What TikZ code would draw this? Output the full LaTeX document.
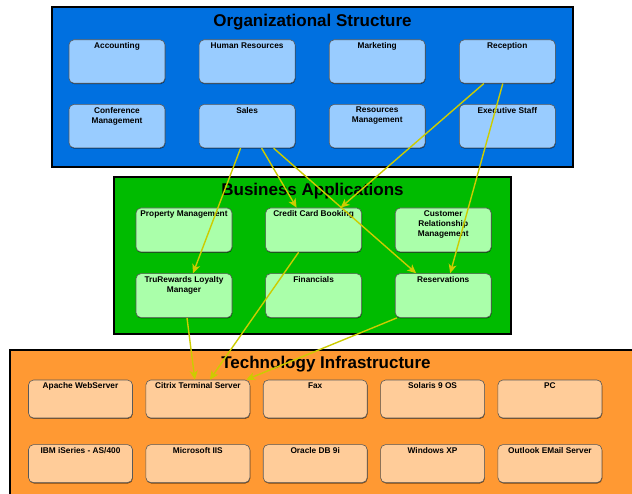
\documentclass[tikz,border=0pt]{standalone}
\usepackage{fontspec}
\setmainfont{Liberation Sans}
\usetikzlibrary{arrows.meta, positioning, shadows}

\definecolor{orgblue}{RGB}{0,112,224}
\definecolor{orgfill}{RGB}{153,204,255}
\definecolor{appgreen}{RGB}{0,187,0}
\definecolor{appfill}{RGB}{170,255,170}
\definecolor{techorange}{RGB}{255,153,51}
\definecolor{techfill}{RGB}{255,204,153}
\definecolor{linkyellow}{RGB}{204,204,0}

\begin{document}
\begin{tikzpicture}[x=1pt, y=-1pt,
  groupframe/.style={draw=black, line width=2.5pt},
  grouptitle/.style={anchor=base, font=\fontsize{17}{20}\selectfont\bfseries},
  box/.style={draw=black!65, line width=0.6pt, rounded corners=5pt, inner sep=0pt,
              drop shadow={shadow xshift=0.4pt, shadow yshift=-0.9pt, fill=black, opacity=0.55}},
  orgbox/.style={box, fill=orgfill, minimum width=96pt, minimum height=43.5pt},
  appbox/.style={box, fill=appfill, minimum width=96pt, minimum height=44pt},
  techbox/.style={box, fill=techfill, minimum width=104pt, minimum height=38pt},
  lbl/.style={anchor=north, align=center, inner sep=3pt,
              font=\fontsize{8.3}{10}\selectfont\bfseries},
  ar/.style={draw=linkyellow, line width=1.4pt, -{Stealth[length=9pt, width=8pt, inset=2.5pt]}}]
\useasboundingbox (0,0) rectangle (632,494);
\clip (0,0) rectangle (632,494);
% organizational structure
\draw[groupframe, fill=orgblue] (52,7) rectangle (573,167);
\node[grouptitle] (orgtitle) at (312.5,27) {Organizational Structure};
\node[orgbox, label={[lbl]north:Accounting}] (acc) at (117,61.5) {};
\node[orgbox, right=33.5pt of acc, label={[lbl]north:Human Resources}] (hr) {};
\node[orgbox, right=33.5pt of hr, label={[lbl]north:Marketing}] (mkt) {};
\node[orgbox, right=33.5pt of mkt, label={[lbl]north:Reception}] (recep) {};
\node[orgbox, below=20.5pt of acc, label={[lbl]north:{Conference\\Management}}] (conf) {};
\node[orgbox, right=33.5pt of conf, label={[lbl]north:Sales}] (sales) {};
\node[orgbox, right=33.5pt of sales, label={[lbl]north:{Resources\\Management}}] (resm) {};
\node[orgbox, right=33.5pt of resm, label={[lbl]north:Executive Staff}] (exec) {};
% business applications
\draw[groupframe, fill=appgreen] (114,177) rectangle (511,334);
\node[grouptitle] (apptitle) at (312.5,196) {Business Applications};
\node[appbox, label={[lbl]north:Property Management}] (prop) at (184,230) {};
\node[appbox, right=33pt of prop, label={[lbl]north:Credit Card Booking}] (credit) {};
\node[appbox, right=33pt of credit, label={[lbl]north:{Customer\\Relationship\\Management}}] (crm) {};
\node[appbox, below=21pt of prop, label={[lbl]north:{TruRewards Loyalty\\Manager}}] (loyal) {};
\node[appbox, right=33pt of loyal, label={[lbl]north:Financials}] (fin) {};
\node[appbox, right=33pt of fin, label={[lbl]north:Reservations}] (resv) {};
% technology infrastructure
\draw[groupframe, fill=techorange] (10,350) rectangle (642,505);
\node[grouptitle] (techtitle) at (326,368) {Technology Infrastructure};
\node[techbox, label={[lbl]north:Apache WebServer}] (apache) at (80.5,399) {};
\node[techbox, right=12.75pt of apache, label={[lbl]north:Citrix Terminal Server}] (citrix) {};
\node[techbox, right=12.75pt of citrix, label={[lbl]north:Fax}] (fax) {};
\node[techbox, right=12.75pt of fax, label={[lbl]north:Solaris 9 OS}] (solaris) {};
\node[techbox, right=12.75pt of solaris, label={[lbl]north:PC}] (pc) {};
\node[techbox, below=26pt of apache, label={[lbl]north:IBM iSeries - AS/400}] (ibm) {};
\node[techbox, right=12.75pt of ibm, label={[lbl]north:Microsoft IIS}] (iis) {};
\node[techbox, right=12.75pt of iis, label={[lbl]north:Oracle DB 9i}] (oracle) {};
\node[techbox, right=12.75pt of oracle, label={[lbl]north:Windows XP}] (winxp) {};
\node[techbox, right=12.75pt of winxp, label={[lbl]north:Outlook EMail Server}] (outlook) {};
% links
\draw[ar] ([xshift=-6.5pt]sales.south) -- ([xshift=9pt]loyal.north);
\draw[ar] ([xshift=14.5pt]sales.south) -- ([xshift=-17pt]credit.north);
\draw[ar] ([xshift=26.5pt]sales.south) -- ([xshift=-27pt]resv.north);
\draw[ar] ([xshift=-23.5pt]recep.south) -- ([xshift=27pt]credit.north);
\draw[ar] ([xshift=-4.5pt]recep.south) -- ([xshift=7pt]resv.north);
\draw[ar] ([xshift=3pt]loyal.south) -- ([xshift=-3pt]citrix.north);
\draw[ar] ([xshift=-15pt]credit.south) -- ([xshift=12pt]citrix.north);
\draw[ar] ([xshift=2pt]resv.south west) -- ([xshift=-4pt]citrix.north east);
\end{tikzpicture}
\end{document}
